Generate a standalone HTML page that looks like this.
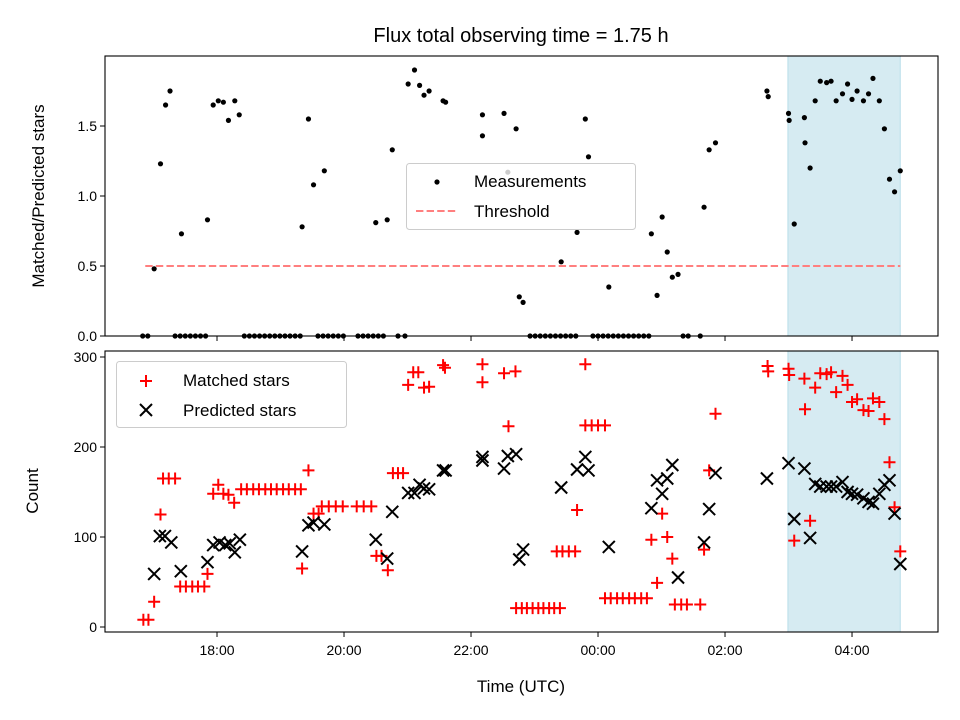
<!DOCTYPE html>
<html><head><meta charset="utf-8"><title>Flux total observing time</title>
<style>
html,body{margin:0;padding:0;background:#fff;}
svg{display:block;font-family:"Liberation Sans","DejaVu Sans",sans-serif;}
</style></head>
<body>
<svg id="chart" width="960" height="720" viewBox="0 0 960 720" xmlns="http://www.w3.org/2000/svg">
<rect width="960" height="720" fill="#fff"/>
<text x="521" y="42" font-size="20" text-anchor="middle" fill="#000">Flux total observing time = 1.75 h</text>
<g id="topPanel"></g>
<g id="botPanel"></g>
<text transform="translate(44,196) rotate(-90)" font-size="17" text-anchor="middle">Matched/Predicted stars</text>
<text transform="translate(38,491) rotate(-90)" font-size="17" text-anchor="middle">Count</text>
<text x="521" y="692" font-size="17" text-anchor="middle">Time (UTC)</text>
</svg>
<script>
// ---- data (hours UTC, continuing past 24) ----
const ratioTimes=[17.01,17.11,17.19,17.26,17.44,17.85,17.94,18.02,18.10,18.18,18.28,18.35,19.34,19.44,19.52,19.69,20.50,20.68,20.76,21.01,21.11,21.19,21.26,21.34,21.56,21.60,22.18,22.18,22.52,22.58,22.71,22.76,22.82,23.42,23.67,23.80,23.85,24.17,24.84,24.93,25.01,25.09,25.17,25.26,25.67,25.75,25.85,26.66,26.68,27.00,27.01,27.09,27.25,27.26,27.34,27.42,27.50,27.60,27.67,27.75,27.85,27.93,28.00,28.08,28.18,28.26,28.33,28.43,28.51,28.59,28.67,28.76];
const ratioValues=[0.48,1.23,1.65,1.75,0.73,0.83,1.65,1.68,1.67,1.54,1.68,1.58,0.78,1.55,1.08,1.18,0.81,0.83,1.33,1.80,1.90,1.79,1.72,1.75,1.68,1.67,1.58,1.43,1.59,1.17,1.48,0.28,0.24,0.53,0.74,1.55,1.28,0.35,0.73,0.29,0.85,0.60,0.42,0.44,0.92,1.33,1.38,1.75,1.71,1.59,1.54,0.80,1.56,1.38,1.20,1.68,1.82,1.81,1.82,1.68,1.73,1.80,1.69,1.75,1.68,1.73,1.84,1.68,1.48,1.12,1.03,1.18];
const zeroTimes=[16.83,16.91,17.34,17.42,17.50,17.58,17.66,17.74,17.82,18.43,18.51,18.59,18.67,18.75,18.83,18.91,18.99,19.07,19.15,19.23,19.31,19.59,19.67,19.75,19.83,19.91,19.99,20.22,20.30,20.38,20.46,20.54,20.62,20.85,20.96,22.93,23.01,23.09,23.17,23.25,23.33,23.41,23.49,23.57,23.65,23.92,24.00,24.08,24.16,24.24,24.32,24.40,24.48,24.56,24.64,24.72,24.80,25.34,25.42,25.61];
const matchedTimes=[16.84,16.92,17.01,17.11,17.15,17.24,17.34,17.42,17.51,17.61,17.70,17.80,17.85,17.94,18.02,18.10,18.18,18.27,18.38,18.47,18.57,18.66,18.76,18.85,18.94,19.04,19.13,19.23,19.32,19.34,19.44,19.52,19.60,19.65,19.76,19.87,19.98,20.20,20.31,20.43,20.51,20.59,20.69,20.77,20.85,20.93,21.01,21.09,21.17,21.26,21.34,21.56,21.59,22.18,22.18,22.52,22.70,22.59,22.71,22.80,22.88,22.97,23.06,23.14,23.23,23.31,23.40,23.35,23.44,23.54,23.64,23.67,23.80,23.80,23.90,24.00,24.11,24.11,24.20,24.30,24.39,24.49,24.58,24.68,24.77,24.84,24.93,25.01,25.09,25.17,25.21,25.31,25.40,25.61,25.67,25.75,25.85,26.67,26.68,27.00,27.01,27.09,27.25,27.26,27.34,27.42,27.50,27.60,27.67,27.75,27.85,27.93,28.00,28.08,28.18,28.26,28.33,28.43,28.51,28.59,28.67,28.76];
const matchedValues=[8,8,28,125,165,165,165,45,45,45,45,45,59,148,158,148,147,138,153,153,153,153,153,153,153,153,153,153,153,65,174,126,126,134,134,134,134,134,134,134,79,79,63,171,171,171,269,283,283,266,267,291,288,292,272,282,284,223,21,21,21,21,21,21,21,21,21,84,84,84,84,130,292,224,224,224,224,32,32,32,32,32,32,32,32,97,49,126,100,76,25,25,25,25,86,174,237,290,284,287,280,96,276,242,118,266,282,281,283,261,279,269,250,253,241,240,254,250,231,183,133,84];
const predTimes=[17.01,17.10,17.18,17.28,17.43,17.85,17.94,18.04,18.13,18.20,18.28,18.36,19.34,19.44,19.52,19.69,20.50,20.68,20.76,21.01,21.11,21.19,21.26,21.34,21.56,21.60,22.18,22.18,22.52,22.58,22.71,22.76,22.82,23.42,23.67,23.80,23.85,24.17,24.84,24.93,25.01,25.09,25.17,25.26,25.67,25.75,25.85,26.66,27.00,27.09,27.25,27.34,27.42,27.50,27.60,27.67,27.75,27.85,27.93,28.00,28.08,28.18,28.26,28.33,28.43,28.51,28.59,28.67,28.76];
const predValues=[59,101,101,94,62,72,91,94,91,93,83,97,84,113,116,114,97,76,128,149,149,158,154,153,174,174,189,185,176,190,192,75,86,155,175,189,174,89,132,163,148,165,180,55,94,131,171,165,182,120,176,99,159,156,156,156,156,161,150,148,147,143,139,137,148,158,163,126,70];
const xTickHours=[18,20,22,24,26,28];
const xTickLabels=["18:00","20:00","22:00","00:00","02:00","04:00"];
const topTicks=[0,0.5,1.0,1.5];
const topTickLabels=["0.0","0.5","1.0","1.5"];
const botTicks=[0,100,200,300];
const threshold=[16.87,28.76,0.5];
const spanHours=[26.99,28.76];

const NS="http://www.w3.org/2000/svg";
const L=105,R=938,T1=56,B1=336,T2=351,B2=632;
const X0=16.236,X1=29.354;
const sx=h=>L+(h-X0)/(X1-X0)*(R-L);
const syTop=v=>336-v*140;
const syBot=v=>627-v*0.9;
function mk(tag,attrs,parent){const e=document.createElementNS(NS,tag);for(const k in attrs)e.setAttribute(k,attrs[k]);parent.appendChild(e);return e;}
const topG=document.getElementById('topPanel'),botG=document.getElementById('botPanel');

function panel(g,T,B){
  const s=mk('rect',{x:sx(spanHours[0]),y:T,width:sx(spanHours[1])-sx(spanHours[0]),height:B-T,fill:'#add8e6','fill-opacity':0.5,stroke:'#add8e6','stroke-opacity':0.8},g);
  
  
}
panel(topG,T1,B1);panel(botG,T2,B2);

const th=mk('line',{x1:sx(threshold[0]),x2:sx(threshold[1]),y1:syTop(threshold[2]),y2:syTop(threshold[2]),stroke:'#ff7f7f','stroke-width':2,'stroke-dasharray':'7.4,3.2'},topG);



ratioTimes.forEach((t,i)=>{const c=mk('circle',{cx:sx(t),cy:syTop(ratioValues[i]),r:2.6,fill:'#000'},topG);

});
zeroTimes.forEach(t=>{const c=mk('circle',{cx:sx(t),cy:syTop(0),r:2.6,fill:'#000'},topG);

});

function plus(g,x,y){return mk('path',{d:`M${x-6},${y}H${x+6}M${x},${y-6}V${y+6}`,stroke:'#ff0000','stroke-width':2,fill:'none'},g);}
function cross(g,x,y){return mk('path',{d:`M${x-6},${y-6}L${x+6},${y+6}M${x-6},${y+6}L${x+6},${y-6}`,stroke:'#000','stroke-width':2,fill:'none'},g);}
matchedTimes.forEach((t,i)=>{const p=plus(botG,sx(t),syBot(matchedValues[i]));

});
predTimes.forEach((t,i)=>{const p=cross(botG,sx(t),syBot(predValues[i]));

});

function frame(g,T,B){const r=mk('rect',{x:L,y:T,width:R-L,height:B-T,fill:'none',stroke:'#000','stroke-width':1.1},g);

}
frame(topG,T1,B1);frame(botG,T2,B2);
xTickHours.forEach((h,i)=>{
  mk('line',{x1:sx(h),x2:sx(h),y1:B1,y2:B1+5,stroke:'#000'},topG);
  mk('line',{x1:sx(h),x2:sx(h),y1:B2,y2:B2+5,stroke:'#000'},botG);
  const t=mk('text',{x:sx(h),y:B2+23,'font-size':14,'text-anchor':'middle'},botG);t.textContent=xTickLabels[i];
  
  
});
topTicks.forEach((v,i)=>{
  mk('line',{x1:L-5,x2:L,y1:syTop(v),y2:syTop(v),stroke:'#000'},topG);
  const t=mk('text',{x:L-8,y:syTop(v)+5,'font-size':14,'text-anchor':'end'},topG);t.textContent=topTickLabels[i];
  
  
});
botTicks.forEach(v=>{
  mk('line',{x1:L-5,x2:L,y1:syBot(v),y2:syBot(v),stroke:'#000'},botG);
  const t=mk('text',{x:L-8,y:syBot(v)+5,'font-size':14,'text-anchor':'end'},botG);t.textContent=String(v);
  
  
});

const lg1=mk('g',{},topG);


mk('rect',{x:406.5,y:163.5,width:229,height:66,rx:3,fill:'#fff','fill-opacity':0.8,stroke:'#ccc'},lg1);
mk('circle',{cx:437,cy:182,r:2.6,fill:'#000'},lg1);
let tt=mk('text',{x:474,y:187,'font-size':17},lg1);tt.textContent='Measurements';
mk('line',{x1:416,x2:456,y1:211,y2:211,stroke:'#ff7f7f','stroke-width':2,'stroke-dasharray':'7.4,3.2'},lg1);
tt=mk('text',{x:474,y:217,'font-size':17},lg1);tt.textContent='Threshold';

const lg2=mk('g',{},botG);


mk('rect',{x:116.5,y:361.5,width:230,height:66,rx:3,fill:'#fff','fill-opacity':0.8,stroke:'#ccc'},lg2);
plus(lg2,146,381);
tt=mk('text',{x:183,y:386,'font-size':17},lg2);tt.textContent='Matched stars';
cross(lg2,146,410);
tt=mk('text',{x:183,y:416,'font-size':17},lg2);tt.textContent='Predicted stars';
</script>
</body></html>
